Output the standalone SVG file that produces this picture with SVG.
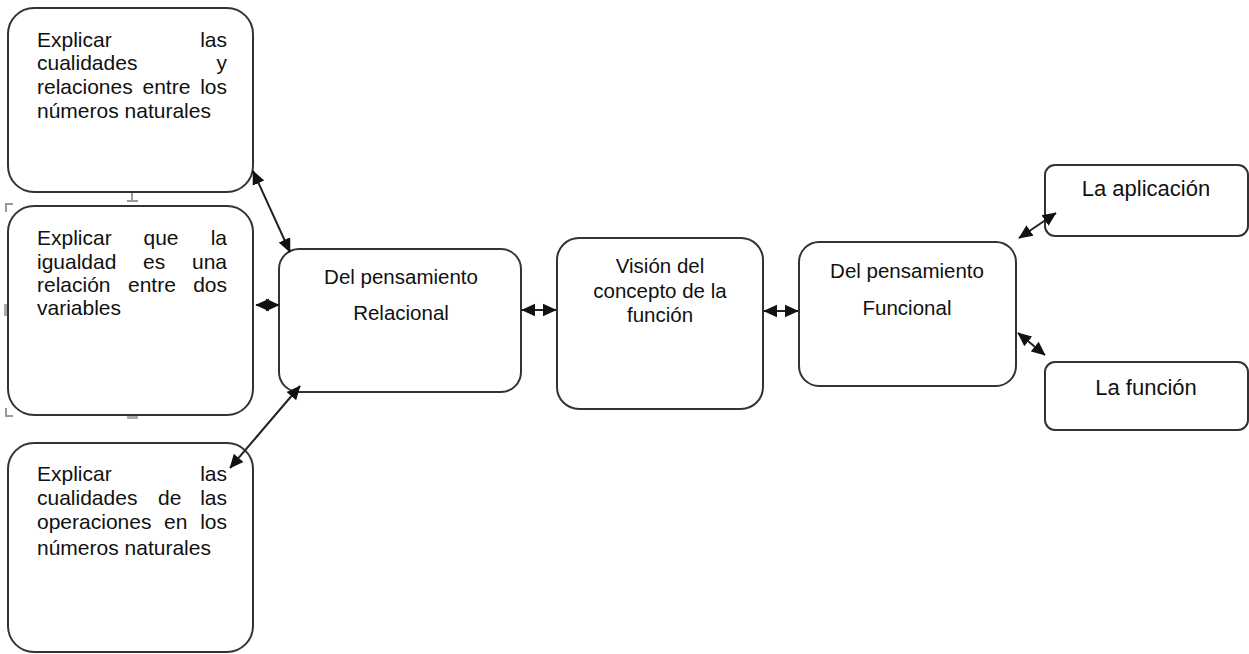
<svg xmlns="http://www.w3.org/2000/svg" width="1249" height="654" viewBox="0 0 1249 654">
<style>
.box{fill:#fff;stroke:#333;stroke-width:2}
.t{font-family:"Liberation Sans",Arial,sans-serif;fill:#111}
.l{font-size:21px}
.c{font-size:20.5px;text-anchor:middle}
.s{font-size:22px;text-anchor:middle}
.e{text-anchor:end}
.conn{stroke:#222;stroke-width:2;fill:none;marker-start:url(#ah);marker-end:url(#ah)}
.h{fill:none;stroke:#999;stroke-width:2}
</style>
<defs>
<marker id="ah" viewBox="0 0 10 10" refX="9.5" refY="5" markerWidth="7" markerHeight="7" orient="auto-start-reverse" markerUnits="strokeWidth">
<path d="M0,0.5 L10,5 L0,9.5 z" fill="#111"/>
</marker>
</defs>
<rect width="1249" height="654" fill="#fff"/>

<g id="handles">
<path class="h" d="M132,192 V201 M127,201 H138"/>
<path class="h" d="M6,212 V204 H13"/>
<path class="h" d="M6,408 V416 H13"/>
<rect x="4" y="304" width="4" height="12" fill="#aaa"/>
<rect x="127" y="414" width="11" height="5" fill="#aaa"/>
</g>

<g id="n1">
<rect class="box" x="8" y="8" width="245" height="184" rx="26"/>
<text class="t l" x="37" y="47">Explicar</text><text class="t l e" x="227" y="47">las</text>
<text class="t l" x="37" y="70">cualidades</text><text class="t l e" x="227" y="70">y</text>
<text class="t l" y="94"><tspan x="37">relaciones</tspan><tspan x="142.5">entre</tspan></text><text class="t l e" x="227" y="94">los</text>
<text class="t l" x="37" y="118">números naturales</text>
</g>

<g id="n2">
<rect class="box" x="8" y="206" width="245" height="209" rx="26"/>
<text class="t l" y="245"><tspan x="37">Explicar</tspan><tspan x="143.5">que</tspan></text><text class="t l e" x="227" y="245">la</text>
<text class="t l" y="269"><tspan x="37">igualdad</tspan><tspan x="143">es</tspan></text><text class="t l e" x="227" y="269">una</text>
<text class="t l" y="292"><tspan x="37">relación</tspan><tspan x="128">entre</tspan></text><text class="t l e" x="227" y="292">dos</text>
<text class="t l" x="37" y="315">variables</text>
</g>

<g id="n3">
<rect class="box" x="8" y="443" width="245" height="209" rx="26"/>
<text class="t l" x="37" y="481">Explicar</text><text class="t l e" x="227" y="481">las</text>
<text class="t l" y="505"><tspan x="37">cualidades</tspan><tspan x="158">de</tspan></text><text class="t l e" x="227" y="505">las</text>
<text class="t l" y="529"><tspan x="37">operaciones</tspan><tspan x="164">en</tspan></text><text class="t l e" x="227" y="529">los</text>
<text class="t l" x="37" y="555">números naturales</text>
</g>

<g id="relacional">
<rect class="box" x="279" y="249" width="242" height="143" rx="20"/>
<text class="t c" x="401" y="284">Del pensamiento</text>
<text class="t c" x="401" y="320">Relacional</text>
</g>

<g id="vision">
<rect class="box" x="557" y="238" width="206" height="171" rx="22"/>
<text class="t c" x="660" y="273">Visión del</text>
<text class="t c" x="660" y="298">concepto de la</text>
<text class="t c" x="660" y="322">función</text>
</g>

<g id="funcional">
<rect class="box" x="799" y="242" width="217" height="144" rx="20"/>
<text class="t c" x="907" y="278">Del pensamiento</text>
<text class="t c" x="907" y="315">Funcional</text>
</g>

<g id="aplicacion">
<rect class="box" x="1045" y="165" width="203" height="71" rx="10"/>
<text class="t s" x="1146" y="196">La aplicación</text>
</g>

<g id="funcion">
<rect class="box" x="1045" y="362" width="203" height="68" rx="10"/>
<text class="t s" x="1146" y="395">La función</text>
</g>

<g id="connectors">
<line class="conn" x1="253" y1="171" x2="290" y2="252"/>
<line class="conn" x1="256" y1="305" x2="279" y2="305"/>
<line class="conn" x1="230" y1="468" x2="300" y2="386"/>
<line class="conn" x1="522" y1="310" x2="556" y2="310"/>
<line class="conn" x1="764" y1="311" x2="798" y2="311"/>
<line class="conn" x1="1019" y1="238" x2="1056" y2="213"/>
<line class="conn" x1="1018" y1="333" x2="1045" y2="355"/>
</g>
</svg>
